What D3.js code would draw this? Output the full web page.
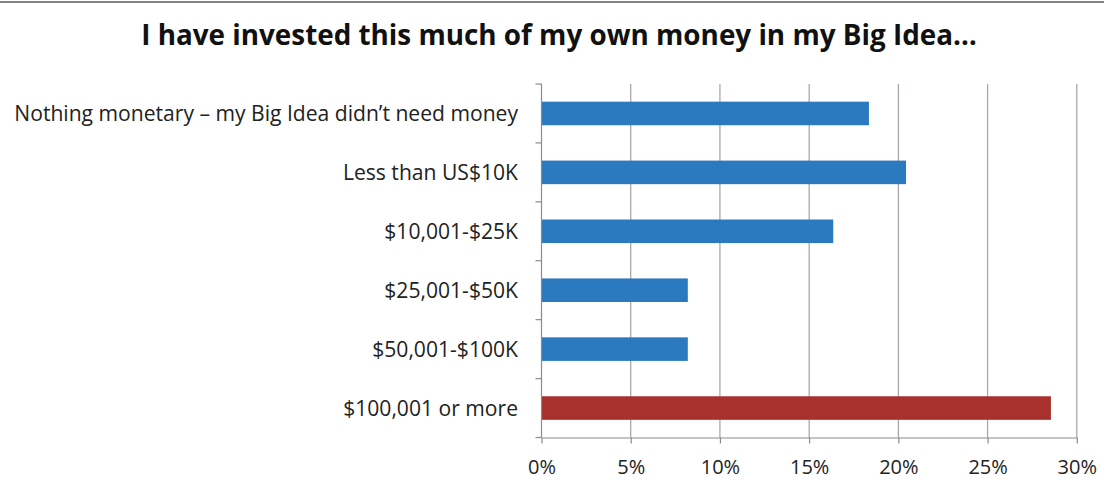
<!DOCTYPE html>
<html>
<head>
<meta charset="utf-8">
<script src="https://cdn.jsdelivr.net/npm/d3@7"></script>
<style>
  html, body { margin: 0; padding: 0; background: #ffffff; }
  svg { display: block; }
</style>
</head>
<body>
<svg id="chart" width="1104" height="495"></svg>
<script>
// Survey answers, top to bottom
const categories = [
  "Nothing monetary \u2013 my Big Idea didn\u2019t need money",
  "Less than US$10K",
  "$10,001-$25K",
  "$25,001-$50K",
  "$50,001-$100K",
  "$100,001 or more"
];
// Share of respondents (fraction)
const shares = [0.1835, 0.2043, 0.1635, 0.082, 0.082, 0.2855];
// Highlighted answer drawn in red
const highlight = ["$100,001 or more"];
const xTicks = [0, 0.05, 0.10, 0.15, 0.20, 0.25, 0.30];
const titleText = "I have invested this much of my own money in my Big Idea\u2026";

const FONT = "'Open Sans', 'Noto Sans', sans-serif";
const svg = d3.select("#chart");
const W = 1104, H = 495;
const plot = { left: 541.5, right: 1076.8, top: 84, bottom: 437.5 };

const x = d3.scaleLinear().domain([0, 0.30]).range([plot.left, plot.right]);
const y = d3.scaleBand().domain(categories)
  .range([plot.top, plot.bottom])
  .paddingInner(0.6).paddingOuter(0.3);

// scale a text element's font so it spans the given width
function fitWidth(sel, width) {
  const node = sel.node();
  const fs = parseFloat(sel.attr("font-size"));
  const w = node.getComputedTextLength();
  return fs * width / w;
}

// thin rule along the top edge
svg.append("line")
  .attr("x1", 0).attr("x2", W).attr("y1", 2).attr("y2", 2)
  .attr("stroke", "#5a5a5a").attr("stroke-width", 1.5);

// title
const title = svg.append("text")
  .attr("x", 559).attr("y", 45)
  .attr("text-anchor", "middle")
  .attr("font-family", FONT)
  .attr("font-weight", "bold")
  .attr("font-size", 25)
  .attr("fill", "#111")
  .text(titleText);
title.attr("font-size", fitWidth(title, 836));

// vertical gridlines
svg.append("g").selectAll("line")
  .data(xTicks.filter(d => d > 0))
  .join("line")
  .attr("x1", d => x(d)).attr("x2", d => x(d))
  .attr("y1", plot.top).attr("y2", plot.bottom)
  .attr("stroke", "#ab9f9f").attr("stroke-width", 1.2);

// bars
svg.append("g").selectAll("rect")
  .data(categories.map((c, i) => ({ c, v: shares[i] })))
  .join("rect")
  .attr("x", x(0))
  .attr("y", d => y(d.c))
  .attr("width", d => x(d.v) - x(0))
  .attr("height", y.bandwidth())
  .attr("fill", d => highlight.includes(d.c) ? "#a8302d" : "#2b79bf");

// bottom axis
const xAxis = d3.axisBottom(x)
  .tickValues(xTicks)
  .tickFormat(d3.format(".0%"))
  .tickSize(6)
  .tickSizeOuter(0)
  .tickPadding(16);
const gx = svg.append("g")
  .attr("transform", `translate(0,${plot.bottom})`)
  .call(xAxis);
gx.select(".domain").attr("stroke", "#8f8a8a").attr("stroke-width", 1.2);
gx.selectAll(".tick line").attr("stroke", "#8f8a8a").attr("stroke-width", 1.2);
gx.selectAll(".tick text")
  .attr("font-family", FONT)
  .attr("font-size", 20)
  .attr("fill", "#222");

// left axis: line with tick marks at category boundaries
const gy = svg.append("g");
gy.append("line")
  .attr("x1", plot.left).attr("x2", plot.left)
  .attr("y1", plot.top).attr("y2", plot.bottom)
  .attr("stroke", "#8f8a8a").attr("stroke-width", 1.2);
const step = y.step();
const bounds = d3.range(categories.length + 1).map(i => plot.top + i * step);
gy.selectAll("line.tk")
  .data(bounds)
  .join("line")
  .attr("class", "tk")
  .attr("x1", plot.left - 6).attr("x2", plot.left)
  .attr("y1", d => d).attr("y2", d => d)
  .attr("stroke", "#8f8a8a").attr("stroke-width", 1.2);

// category labels
const labels = gy.selectAll("text")
  .data(categories)
  .join("text")
  .attr("x", 518)
  .attr("y", d => y(d) + y.bandwidth() / 2)
  .attr("dy", "0.36em")
  .attr("text-anchor", "end")
  .attr("font-family", FONT)
  .attr("font-size", 18)
  .attr("fill", "#222")
  .text(d => d);
const labelSize = fitWidth(labels.filter((d, i) => i === 0), 504);
labels.attr("font-size", labelSize);
</script>
</body>
</html>
